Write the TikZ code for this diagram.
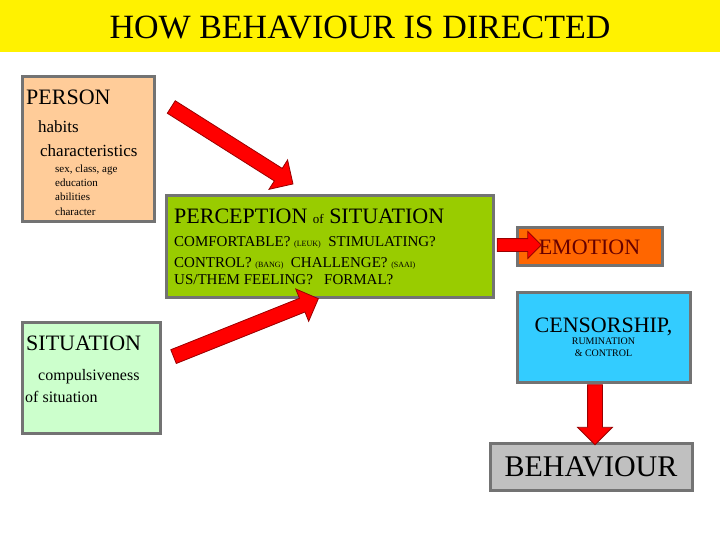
\documentclass[tikz,border=0pt]{standalone}
\usepackage{fontspec}
\setmainfont{Liberation Serif}
\usetikzlibrary{shapes.arrows}
\newcommand\fs[1]{\fontsize{#1}{#1}\selectfont}
\begin{document}
\begin{tikzpicture}[x=1pt,y=-1pt,
  box/.style={draw=gray!90!black,line width=3pt},
  txt/.style={anchor=base west,inner sep=0pt},
  fat/.style={single arrow,draw=red!60!black,fill=red,line width=0.8pt,inner xsep=0pt,inner ysep=7pt,single arrow head extend=10pt}]
\useasboundingbox (0,0) rectangle (720,540);
\fill[white] (0,0) rectangle (720,540);
\fill[yellow] (0,0) rectangle (720,52);
\node (title) at (360,28) {\fs{34}HOW BEHAVIOUR IS DIRECTED};
\draw[box,fill={rgb,255:red,255;green,204;blue,153}] (22,77) rectangle (154,222);
\draw[box,fill={rgb,255:red,153;green,204;blue,0}] (166,196) rectangle (493,297);
\draw[box,fill={rgb,255:red,255;green,102;blue,0}] (517,228) rectangle (662,265);
\draw[box,fill={rgb,255:red,51;green,204;blue,255}] (517,292) rectangle (690,382);
\draw[box,fill={rgb,255:red,204;green,255;blue,204}] (22,322) rectangle (160,433);
\draw[box,fill={rgb,255:red,192;green,192;blue,192}] (490,443) rectangle (692,490);
\node[txt] (p1) at (26,105) {\fs{22}PERSON};
\node[txt] (p2) at (38,133) {\fs{17}habits};
\node[txt] (p3) at (40,157) {\fs{17}characteristics};
\node[txt] (p4) at (55,173) {\fs{11}sex, class, age};
\node[txt] (p5) at (55,187) {\fs{11}education};
\node[txt] (p6) at (55,201) {\fs{11}abilities};
\node[txt] (p7) at (55,215) {\fs{11}character};
\node[txt] (g1) at (174,224) {\fs{22}PERCEPTION {\fs{13}of} SITUATION};
\node[txt] (g2) at (174,247) {\fs{15}COMFORTABLE? {\fs{8}(LEUK)}\ \ STIMULATING?};
\node[txt] (g3) at (174,267) {\fs{15}CONTROL? {\fs{8}(BANG)}\ \ CHALLENGE? {\fs{8}(SAAI)}};
\node[txt] (g4) at (174,284) {\fs{15}US/THEM FEELING?\ \ \ FORMAL?};
\node (em) at (589.5,247) {\fs{22}\color{red!40!black}EMOTION};
\node[align=center] (cen) at (603.5,337) {\fs{22}\baselineskip=26pt CENSORSHIP,\\RUMINATION\\\& CONTROL};
\node[txt] (s1) at (26,350) {\fs{22}SITUATION};
\node[txt] (s2) at (38,380) {\fs{16}compulsiveness};
\node[txt] (s3) at (25,402) {\fs{16}of situation};
\node (beh) at (591,467) {\fs{30}BEHAVIOUR};
\node[fat,minimum height=144pt,rotate=-32.3] (a1) at (229,143.5) {};
\node[fat,minimum height=156pt,rotate=21.8] (a2) at (242.5,329) {};
\node[fat,minimum height=44pt,single arrow head extend=7pt,inner ysep=6pt] (a3) at (516,245) {};
\node[fat,minimum height=60pt,rotate=-90] (a4) at (595,411) {};
\end{tikzpicture}
\end{document}
